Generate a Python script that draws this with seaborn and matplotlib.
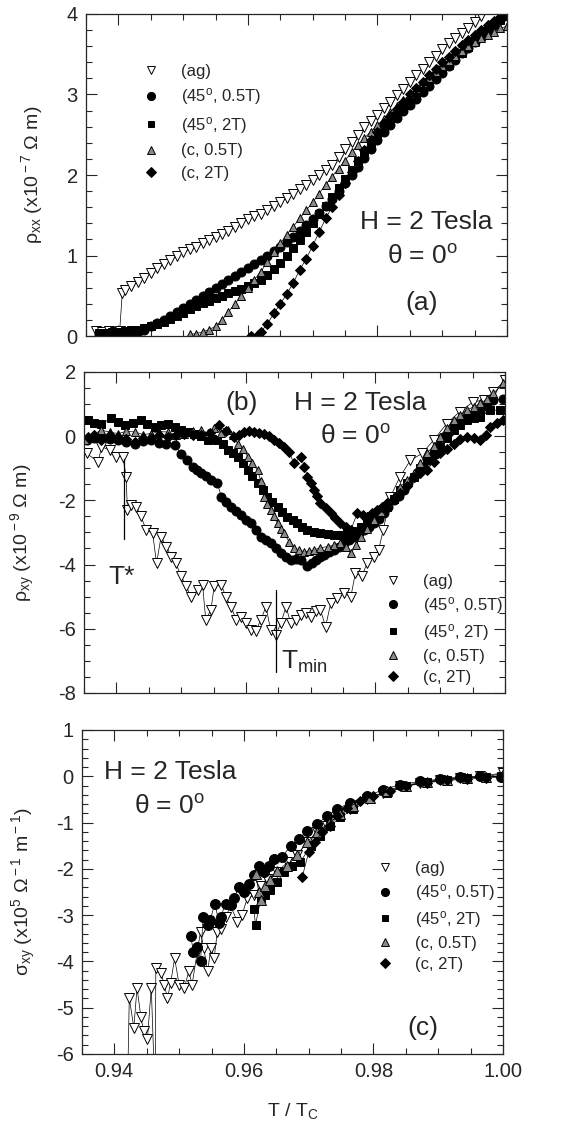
import matplotlib
matplotlib.use('Agg')
import matplotlib.pyplot as plt
from matplotlib.lines import Line2D
from matplotlib.ticker import MultipleLocator, FormatStrFormatter
import pandas as pd
import seaborn as sns

sns.set_style('ticks')
plt.rcParams['font.family'] = ['Liberation Sans', 'DejaVu Sans']
plt.rcParams['mathtext.fontset'] = 'custom'
plt.rcParams['mathtext.rm'] = 'Liberation Sans'
plt.rcParams['mathtext.it'] = 'Liberation Sans:italic'
plt.rcParams['axes.unicode_minus'] = False

labels = ['(ag)', r'(45$^{\rm o}$, 0.5T)', r'(45$^{\rm o}$, 2T)', '(c, 0.5T)', '(c, 2T)']

# ---------------- panel (a): rho_xx ----------------
a_ag_x = [0.9365, 0.9375, 0.9385, 0.9395, 0.9402, 0.9406,
          0.941, 0.942, 0.943, 0.944, 0.945, 0.946, 0.947, 0.948, 0.949, 0.950,
          0.951, 0.952, 0.953, 0.954, 0.955, 0.956, 0.957, 0.958, 0.959, 0.960,
          0.961, 0.962, 0.963, 0.964, 0.965, 0.966, 0.967, 0.968, 0.969, 0.970,
          0.971, 0.972, 0.973, 0.974, 0.975, 0.976, 0.977, 0.978, 0.979, 0.980,
          0.981, 0.982, 0.983, 0.984, 0.985, 0.986, 0.987, 0.988, 0.989, 0.990,
          0.991, 0.992, 0.993, 0.994, 0.995, 0.996]
a_ag_y = [0.06, 0.05, 0.06, 0.05, 0.06, 0.53,
          0.57, 0.62, 0.67, 0.72, 0.78, 0.84, 0.89, 0.94, 0.99, 1.04,
          1.08, 1.11, 1.15, 1.19, 1.23, 1.27, 1.31, 1.35, 1.40, 1.45,
          1.49, 1.52, 1.56, 1.62, 1.67, 1.72, 1.77, 1.83, 1.88, 1.94,
          2.00, 2.06, 2.12, 2.22, 2.32, 2.41, 2.50, 2.59, 2.67, 2.75,
          2.83, 2.91, 2.99, 3.07, 3.15, 3.24, 3.32, 3.40, 3.48, 3.56,
          3.64, 3.70, 3.76, 3.83, 3.90, 3.97]

a_x = [0.937, 0.938, 0.939, 0.940, 0.941, 0.942, 0.943, 0.944, 0.945, 0.946,
       0.947, 0.948, 0.949, 0.950, 0.951, 0.952, 0.953, 0.954, 0.955, 0.956,
       0.957, 0.958, 0.959, 0.960, 0.961, 0.962, 0.963, 0.964, 0.965, 0.966,
       0.967, 0.968, 0.969, 0.970, 0.971, 0.972, 0.973, 0.974, 0.975, 0.976,
       0.977, 0.978, 0.979, 0.980, 0.981, 0.982, 0.983, 0.984, 0.985, 0.986,
       0.987, 0.988, 0.989, 0.990, 0.991, 0.992, 0.993, 0.994, 0.995, 0.996,
       0.997, 0.998, 0.999, 1.000]
a_45_05_y = [0.03, 0.03, 0.03, 0.03, 0.03, 0.04, 0.05, 0.08, 0.12, 0.16,
             0.20, 0.25, 0.30, 0.35, 0.40, 0.45, 0.50, 0.55, 0.60, 0.65,
             0.70, 0.75, 0.80, 0.85, 0.90, 0.95, 1.00, 1.05, 1.11, 1.17,
             1.23, 1.30, 1.38, 1.45, 1.53, 1.61, 1.70, 1.80, 1.90, 2.00,
             2.10, 2.21, 2.32, 2.43, 2.53, 2.62, 2.71, 2.79, 2.87, 2.95,
             3.03, 3.11, 3.19, 3.27, 3.35, 3.43, 3.51, 3.58, 3.65, 3.72,
             3.79, 3.86, 3.93, 4.00]
a_45_2_y = [0.04, 0.04, 0.05, 0.05, 0.06, 0.07, 0.08, 0.10, 0.12, 0.15,
            0.18, 0.21, 0.25, 0.29, 0.33, 0.37, 0.41, 0.44, 0.47, 0.50,
            0.53, 0.56, 0.59, 0.62, 0.66, 0.70, 0.76, 0.83, 0.91, 1.00,
            1.09, 1.19, 1.29, 1.40, 1.51, 1.62, 1.73, 1.84, 1.95, 2.06,
            2.17, 2.28, 2.39, 2.49, 2.58, 2.67, 2.75, 2.83, 2.91, 2.99,
            3.07, 3.15, 3.23, 3.30, 3.37, 3.45, 3.52, 3.59, 3.66, 3.73,
            3.80, 3.87, 3.93, 3.98]

a_c05_x = [0.951, 0.952, 0.953, 0.954, 0.955, 0.956, 0.957, 0.958, 0.959, 0.960,
           0.961, 0.962, 0.963, 0.964, 0.965, 0.966, 0.967, 0.968, 0.969, 0.970,
           0.971, 0.972, 0.973, 0.974, 0.975, 0.976, 0.977, 0.978, 0.979, 0.980,
           0.981, 0.982, 0.983, 0.984, 0.985, 0.986, 0.987, 0.988, 0.989, 0.990,
           0.991, 0.992, 0.993, 0.994, 0.995, 0.996, 0.997, 0.998, 0.999, 1.000]
a_c05_y = [0.02, 0.03, 0.05, 0.08, 0.12, 0.20, 0.30, 0.40, 0.50, 0.60,
           0.70, 0.80, 0.92, 1.04, 1.15, 1.26, 1.36, 1.46, 1.56, 1.66,
           1.77, 1.88, 1.98, 2.08, 2.18, 2.28, 2.37, 2.46, 2.54, 2.62,
           2.70, 2.78, 2.86, 2.93, 3.00, 3.07, 3.14, 3.21, 3.28, 3.35,
           3.42, 3.48, 3.54, 3.60, 3.65, 3.70, 3.74, 3.78, 3.82, 3.85]

a_c2_x = [0.9605, 0.9615, 0.962, 0.963, 0.964, 0.965, 0.966, 0.967, 0.968, 0.969,
          0.970, 0.971, 0.972, 0.973, 0.974, 0.975, 0.976, 0.977, 0.978, 0.979,
          0.980, 0.981, 0.982, 0.983, 0.984, 0.985, 0.986, 0.987, 0.988, 0.989,
          0.990, 0.991, 0.992, 0.993, 0.994, 0.995, 0.996, 0.997, 0.998, 0.999, 1.000]
a_c2_y = [0.00, 0.01, 0.05, 0.15, 0.28, 0.40, 0.52, 0.66, 0.82, 0.96,
          1.12, 1.29, 1.46, 1.60, 1.75, 1.90, 2.04, 2.18, 2.31, 2.43,
          2.54, 2.64, 2.73, 2.82, 2.91, 3.00, 3.08, 3.16, 3.24, 3.32,
          3.40, 3.47, 3.54, 3.61, 3.68, 3.74, 3.80, 3.86, 3.91, 3.96, 4.00]

# ---------------- panel (b): rho_xy ----------------
b_ag_x = [0.9354, 0.9372, 0.9377, 0.9390, 0.9400, 0.9410, 0.9415, 0.9417, 0.9423, 0.9431,
          0.9438, 0.9446, 0.9456, 0.9462, 0.9469, 0.9477, 0.9485, 0.9492, 0.9500, 0.9508,
          0.9515, 0.9526, 0.9533, 0.9538, 0.9546, 0.9551, 0.9562, 0.9569, 0.9577, 0.9585,
          0.9592, 0.9600, 0.9608, 0.9615, 0.9623, 0.9631, 0.9638, 0.9646, 0.9654, 0.9662,
          0.9669, 0.9677, 0.9685, 0.9692, 0.9700, 0.9708, 0.9715, 0.9723, 0.9731, 0.9741,
          0.9751, 0.9762, 0.9769, 0.9779, 0.9787, 0.9797, 0.9805, 0.9812, 0.9823, 0.9838,
          0.9854, 0.9872, 0.9890, 0.9910, 0.9930, 0.9951, 0.9967, 0.9982, 1.0000]
b_ag_y = [-0.54, -0.80, -0.33, -0.44, -0.64, -0.64, -1.26, -2.30, -2.15, -2.20,
          -2.50, -2.92, -3.03, -3.96, -3.13, -3.44, -3.75, -3.96, -4.37, -4.68,
          -5.00, -4.79, -4.63, -5.72, -5.41, -4.68, -4.63, -5.00, -5.31, -5.72,
          -5.62, -5.82, -6.03, -6.08, -5.72, -5.31, -6.03, -6.19, -5.82, -5.31,
          -5.82, -5.72, -5.56, -5.51, -5.62, -5.46, -5.41, -5.93, -5.20, -5.05,
          -4.89, -5.00, -4.27, -4.37, -3.96, -3.75, -3.54, -2.92, -1.89, -1.26,
          -0.75, -0.54, -0.12, 0.39, 0.76, 1.07, 1.12, 1.38, 1.74]

b_45_05_x = [0.9354, 0.9365, 0.9377, 0.9390, 0.9403, 0.9415, 0.9428, 0.9441, 0.9454, 0.9466,
             0.9477, 0.9490, 0.9500, 0.9509, 0.9518, 0.9525, 0.9531, 0.9539, 0.9546, 0.9556,
             0.9562, 0.9569, 0.9577, 0.9585, 0.9592, 0.9600, 0.9608, 0.9615, 0.9623, 0.9631,
             0.9638, 0.9646, 0.9654, 0.9662, 0.9669, 0.9677, 0.9685, 0.9695, 0.9702, 0.9708,
             0.9715, 0.9721, 0.9728, 0.9736, 0.9744, 0.9751, 0.9759, 0.9767, 0.9774, 0.9782,
             0.9790, 0.9797, 0.9805, 0.9813, 0.9820, 0.9828, 0.9836, 0.9844, 0.9851, 0.9859,
             0.9867, 0.9874, 0.9882, 0.9890, 0.9898, 0.9905, 0.9913, 0.9921, 0.9931, 0.9941,
             0.9952, 0.9962, 0.9972, 0.9982, 0.9997]
b_45_05_y = [-0.12, -0.05, -0.02, -0.08, -0.12, -0.18, -0.23, -0.15, -0.12, -0.20,
             -0.23, -0.28, -0.55, -0.75, -0.95, -1.05, -1.16, -1.25, -1.37, -1.47,
             -1.89, -2.05, -2.20, -2.33, -2.46, -2.60, -2.72, -2.93, -3.13, -3.25,
             -3.34, -3.50, -3.65, -3.75, -3.85, -3.82, -3.85, -4.06, -3.95, -3.85,
             -3.78, -3.70, -3.62, -3.54, -3.45, -3.34, -3.25, -3.13, -3.02, -2.92,
             -2.82, -2.72, -2.58, -2.40, -2.20, -1.99, -1.85, -1.68, -1.45, -1.26,
             -1.10, -0.95, -0.75, -0.54, -0.30, -0.02, 0.12, 0.29, 0.45, 0.60,
             0.70, 0.76, 0.95, 1.12, 1.17]

b_45_2_x = [0.9356, 0.9366, 0.9377, 0.9392, 0.9403, 0.9413, 0.9425, 0.9438, 0.9448, 0.9459,
            0.9469, 0.9479, 0.9490, 0.9500, 0.9510, 0.9520, 0.9531, 0.9541, 0.9548, 0.9556,
            0.9564, 0.9572, 0.9580, 0.9587, 0.9595, 0.9603, 0.9610, 0.9618, 0.9626, 0.9633,
            0.9641, 0.9649, 0.9656, 0.9664, 0.9672, 0.9679, 0.9687, 0.9695, 0.9705, 0.9715,
            0.9726, 0.9736, 0.9746, 0.9756, 0.9767, 0.9777, 0.9787, 0.9797, 0.9808, 0.9818,
            0.9828, 0.9838, 0.9849, 0.9859, 0.9869, 0.9879, 0.9890, 0.9900, 0.9910, 0.9921,
            0.9931, 0.9941, 0.9952, 0.9962, 0.9977, 0.9992]
b_45_2_y = [0.50, 0.42, 0.39, 0.55, 0.45, 0.34, 0.40, 0.50, 0.38, 0.29,
            0.35, 0.39, 0.30, 0.19, 0.14, 0.08, 0.00, -0.12, -0.08, -0.12,
            -0.25, -0.44, -0.52, -0.64, -0.85, -1.06, -1.25, -1.47, -1.68, -1.89,
            -2.05, -2.20, -2.35, -2.51, -2.62, -2.72, -2.82, -2.92, -3.00, -3.03,
            -3.06, -3.08, -3.07, -3.03, -2.95, -2.82, -2.68, -2.51, -2.36, -2.20,
            -1.95, -1.68, -1.47, -1.26, -1.00, -0.75, -0.55, -0.33, -0.05, 0.19,
            0.35, 0.50, 0.55, 0.60, 0.81, 0.81]

b_c05_x = [0.9351, 0.9364, 0.9377, 0.9390, 0.9403, 0.9415, 0.9428, 0.9441, 0.9454, 0.9466,
           0.9479, 0.9492, 0.9505, 0.9518, 0.9531, 0.9541, 0.9551, 0.9562, 0.9572, 0.9580,
           0.9587, 0.9595, 0.9603, 0.9610, 0.9618, 0.9623, 0.9628, 0.9633, 0.9638, 0.9644,
           0.9649, 0.9654, 0.9659, 0.9667, 0.9674, 0.9682, 0.9690, 0.9697, 0.9705, 0.9715,
           0.9726, 0.9736, 0.9746, 0.9754, 0.9762, 0.9770, 0.9777, 0.9787, 0.9797, 0.9808,
           0.9818, 0.9828, 0.9838, 0.9849, 0.9859, 0.9869, 0.9879, 0.9890, 0.9900, 0.9910,
           0.9921, 0.9931, 0.9941, 0.9952, 0.9962, 0.9972, 0.9982, 0.9997]
b_c05_y = [-0.12, 0.05, 0.19, 0.12, 0.08, 0.15, 0.13, 0.05, 0.08, 0.14,
           0.13, 0.05, 0.08, 0.15, 0.19, 0.10, 0.24, 0.10, 0.19, 0.05,
           -0.23, -0.40, -0.64, -0.85, -1.06, -1.40, -1.89, -2.10, -2.30, -2.50,
           -2.72, -2.90, -3.03, -3.30, -3.49, -3.55, -3.60, -3.58, -3.54, -3.48,
           -3.44, -3.40, -3.34, -3.45, -3.65, -3.40, -3.13, -2.88, -2.61, -2.35,
           -2.09, -1.85, -1.58, -1.38, -1.16, -0.85, -0.54, -0.30, -0.02, 0.25,
           0.50, 0.65, 0.81, 0.92, 1.02, 1.15, 1.33, 1.64]

b_c2_x = [0.9356, 0.9366, 0.9377, 0.9390, 0.9403, 0.9415, 0.9428, 0.9441, 0.9454, 0.9466,
          0.9479, 0.9492, 0.9505, 0.9518, 0.9531, 0.9545, 0.9559, 0.9570, 0.9582, 0.9590,
          0.9597, 0.9605, 0.9613, 0.9620, 0.9628, 0.9636, 0.9644, 0.9651, 0.9659, 0.9667,
          0.9674, 0.9685, 0.9690, 0.9695, 0.9700, 0.9705, 0.9710, 0.9715, 0.9723, 0.9731,
          0.9738, 0.9746, 0.9754, 0.9762, 0.9772, 0.9780, 0.9787, 0.9795, 0.9803, 0.9810,
          0.9818, 0.9828, 0.9838, 0.9849, 0.9859, 0.9869, 0.9879, 0.9890, 0.9900, 0.9910,
          0.9921, 0.9931, 0.9941, 0.9952, 0.9962, 0.9970, 0.9977, 0.9987, 0.9997]
b_c2_y = [-0.02, 0.05, -0.12, 0.03, -0.02, -0.10, -0.18, -0.05, -0.07, 0.02,
          -0.02, 0.05, 0.08, 0.02, 0.03, 0.10, 0.34, 0.15, -0.02, 0.05,
          0.13, 0.16, 0.13, 0.10, 0.08, 0.00, -0.12, -0.20, -0.33, -0.50,
          -0.85, -0.64, -0.95, -1.26, -1.45, -1.68, -1.85, -2.09, -2.25, -2.40,
          -2.55, -2.72, -2.82, -2.92, -2.40, -2.45, -2.51, -2.40, -2.30, -2.20,
          -2.09, -1.95, -1.78, -1.55, -1.26, -1.15, -1.06, -0.80, -0.54, -0.40,
          -0.23, -0.10, -0.02, -0.05, -0.12, 0.05, 0.29, 0.40, 0.50]

# ---------------- panel (c): sigma_xy ----------------
c_ag_x = [0.9420, 0.9423, 0.9430, 0.9435, 0.9441, 0.9445, 0.9451, 0.9457, 0.9463, 0.9464,
          0.9472, 0.9477, 0.9482, 0.9487, 0.9493, 0.9500, 0.9508, 0.9515, 0.9520, 0.9528,
          0.9533, 0.9538, 0.9544, 0.9549, 0.9554, 0.9559, 0.9564, 0.9572, 0.9579, 0.9590,
          0.9597, 0.9605, 0.9615, 0.9626, 0.9636, 0.9651, 0.9667, 0.9682, 0.9697, 0.9713,
          0.9728, 0.9744, 0.9764, 0.9790, 0.9815, 0.9841, 0.9872, 0.9903, 0.9933, 0.9964,
          1.0000]
c_ag_y = [-7.00, -4.79, -5.43, -4.57, -5.21, -5.50, -5.68, -4.57, -7.00, -4.14,
          -4.25, -4.50, -4.79, -4.46, -3.93, -4.50, -4.57, -4.21, -4.50, -3.79,
          -3.36, -3.71, -4.21, -3.71, -3.93, -3.36, -3.29, -3.05, -2.79, -3.14,
          -3.00, -2.64, -2.57, -2.36, -2.21, -2.07, -1.86, -1.71, -1.43, -1.21,
          -1.07, -0.86, -0.71, -0.50, -0.36, -0.21, -0.14, -0.07, -0.04, 0.00,
          0.07]

c_45_05_x = [0.9518, 0.9522, 0.9528, 0.9533, 0.9537, 0.9544, 0.9548, 0.9555, 0.9562, 0.9564,
             0.9572, 0.9580, 0.9585, 0.9592, 0.9600, 0.9608, 0.9615, 0.9623, 0.9631, 0.9638,
             0.9646, 0.9659, 0.9672, 0.9685, 0.9697, 0.9713, 0.9728, 0.9744, 0.9764, 0.9790,
             0.9815, 0.9841, 0.9872, 0.9903, 0.9933, 0.9964, 0.9997]
c_45_05_y = [-3.46, -3.79, -3.68, -4.00, -3.04, -3.21, -3.11, -2.75, -3.18, -3.04,
             -2.75, -2.79, -2.64, -2.39, -2.50, -2.32, -2.14, -1.93, -2.07, -1.93,
             -1.79, -1.75, -1.50, -1.36, -1.18, -1.04, -0.86, -0.71, -0.57, -0.43,
             -0.29, -0.18, -0.11, -0.06, -0.01, 0.00, -0.01]

c_45_2_x = [0.9615, 0.9618, 0.9626, 0.9633, 0.9641, 0.9651, 0.9662, 0.9674, 0.9687, 0.9703,
            0.9718, 0.9733, 0.9749, 0.9769, 0.9795, 0.9821, 0.9851, 0.9882, 0.9913, 0.9944,
            0.9974, 0.9997]
c_45_2_y = [-2.86, -3.21, -2.64, -2.57, -2.46, -2.29, -2.07, -1.93, -1.86, -1.50,
            -1.29, -1.07, -0.89, -0.71, -0.50, -0.36, -0.21, -0.13, -0.07, -0.04,
            -0.01, 0.00]

c_c05_x = [0.9618, 0.9623, 0.9626, 0.9633, 0.9641, 0.9651, 0.9667, 0.9682, 0.9697, 0.9713,
           0.9731, 0.9749, 0.9769, 0.9795, 0.9821, 0.9851, 0.9882, 0.9913, 0.9944, 0.9974,
           1.0000]
c_c05_y = [-2.11, -2.50, -2.68, -2.36, -2.25, -2.04, -1.93, -1.71, -1.43, -1.21,
           -1.00, -0.82, -0.64, -0.46, -0.32, -0.20, -0.13, -0.07, -0.04, -0.01,
           0.06]

c_c2_x = [0.9690, 0.9700, 0.9710, 0.9720, 0.9733, 0.9744, 0.9759, 0.9779, 0.9800, 0.9826,
          0.9851, 0.9882, 0.9913, 0.9944, 0.9974, 1.0000]
c_c2_y = [-2.18, -1.64, -1.43, -1.21, -1.07, -0.86, -0.68, -0.54, -0.43, -0.32,
          -0.21, -0.14, -0.09, -0.06, -0.04, -0.01]

styles = [
    dict(marker='v', mfc='white', mec='black', color='black'),
    dict(marker='o', mfc='black', mec='black', color='black'),
    dict(marker='s', mfc='black', mec='black', color='black'),
    dict(marker='^', mfc='#8a8a8a', mec='black', color='black'),
    dict(marker='D', mfc='black', mec='black', color='black'),
]
msizes = [6.5, 6.5, 5.5, 6, 5.5]


def draw_series(ax, series, ms_scale=1.0):
    for (xs, ys), st, ms in zip(series, styles, msizes):
        df = pd.DataFrame({'x': xs, 'y': ys})
        s = ms * ms_scale
        if st['marker'] == 'D':
            s = s * 0.85
        sns.lineplot(data=df, x='x', y='y', ax=ax, sort=False, estimator=None,
                     color=st['color'], lw=0.5, marker=st['marker'],
                     markerfacecolor=st['mfc'], markeredgecolor=st['mec'],
                     markeredgewidth=0.7, markersize=s, legend=False)


def add_legend(ax, x0, y0, spacing=0.35):
    handles = []
    for st, ms in zip(styles, msizes):
        handles.append(Line2D([], [], linestyle='none', marker=st['marker'],
                              markerfacecolor=st['mfc'], markeredgecolor=st['mec'],
                              markeredgewidth=0.7, markersize=ms * 0.9))
    ax.legend(handles, labels, loc='upper left', bbox_to_anchor=(x0, y0),
              frameon=False, fontsize=12, handlelength=1.0, handletextpad=1.3,
              labelspacing=spacing, borderpad=0, borderaxespad=0)


def style_axis(ax, ymin, ymax, ymaj, ymin_step, fmt='%d'):
    ax.set_xlim(0.935, 1.0)
    ax.set_ylim(ymin, ymax)
    ax.xaxis.set_major_locator(MultipleLocator(0.02))
    ax.xaxis.set_minor_locator(MultipleLocator(0.005))
    ax.yaxis.set_major_locator(MultipleLocator(ymaj))
    ax.yaxis.set_minor_locator(MultipleLocator(ymin_step))
    ax.yaxis.set_major_formatter(FormatStrFormatter(fmt))
    ax.tick_params(which='both', direction='in', top=True, right=True, width=0.8)
    ax.tick_params(which='major', length=8, labelsize=14.5, pad=6)
    ax.tick_params(which='minor', length=4)
    for sp in ax.spines.values():
        sp.set_linewidth(0.9)
    ax.set_xlabel('')


fig = plt.figure(figsize=(5.77, 11.36), dpi=100)
ax_a = fig.add_axes([0.149, 0.7042, 0.7296, 0.2835])
ax_b = fig.add_axes([0.1456, 0.3900, 0.7296, 0.2826])
ax_c = fig.add_axes([0.1421, 0.0722, 0.7296, 0.2852])

# panel (a)
draw_series(ax_a, [(a_ag_x, a_ag_y), (a_x, a_45_05_y), (a_x, a_45_2_y),
                   (a_c05_x, a_c05_y), (a_c2_x, a_c2_y)])
style_axis(ax_a, 0, 4, 1, 0.2)
ax_a.tick_params(labelbottom=False)
ax_a.set_ylabel(r'ρ$_{\rm xx}$ (x10$^{\rm -7}$ Ω m)', fontsize=14)
ax_a.yaxis.set_label_coords(-0.097, 0.5)
add_legend(ax_a, 0.135, 0.845, spacing=0.45)
ax_a.text(0.808, 0.354, 'H = 2 Tesla', transform=ax_a.transAxes, fontsize=19,
          ha='center', va='center')
ax_a.text(0.80, 0.245, r'θ = 0$^{\rm o}$', transform=ax_a.transAxes, fontsize=19,
          ha='center', va='center')
ax_a.text(0.798, 0.102, '(a)', transform=ax_a.transAxes, fontsize=19,
          ha='center', va='center')

# panel (b)
draw_series(ax_b, [(b_ag_x, b_ag_y), (b_45_05_x, b_45_05_y), (b_45_2_x, b_45_2_y),
                   (b_c05_x, b_c05_y), (b_c2_x, b_c2_y)])
style_axis(ax_b, -8, 2, 2, 0.5)
ax_b.tick_params(labelbottom=False)
ax_b.set_ylabel(r'ρ$_{\rm xy}$ (x10$^{\rm -9}$ Ω m)', fontsize=14)
ax_b.yaxis.set_label_coords(-0.112, 0.5)
add_legend(ax_b, 0.713, 0.37)
ax_b.plot([0.9412, 0.9412], [-0.7, -3.2], color='black', lw=0.9)
ax_b.plot([0.9646, 0.9646], [-4.8, -7.35], color='black', lw=0.9)
ax_b.text(0.375, 0.903, '(b)', transform=ax_b.transAxes, fontsize=19,
          ha='center', va='center')
ax_b.text(0.656, 0.903, 'H = 2 Tesla', transform=ax_b.transAxes, fontsize=19,
          ha='center', va='center')
ax_b.text(0.644, 0.797, r'θ = 0$^{\rm o}$', transform=ax_b.transAxes, fontsize=19,
          ha='center', va='center')
ax_b.text(0.09, 0.361, 'T*', transform=ax_b.transAxes, fontsize=19,
          ha='center', va='center')
ax_b.text(0.468, 0.097, r'T$_{\rm min}$', transform=ax_b.transAxes, fontsize=19,
          ha='left', va='center')

# panel (c)
draw_series(ax_c, [(c_ag_x, c_ag_y), (c_45_05_x, c_45_05_y), (c_45_2_x, c_45_2_y),
                   (c_c05_x, c_c05_y), (c_c2_x, c_c2_y)], ms_scale=1.1)
style_axis(ax_c, -6, 1, 1, 0.2)
ax_c.xaxis.set_major_formatter(FormatStrFormatter('%.2f'))
ax_c.set_ylabel(r'σ$_{\rm xy}$ (x10$^{\rm 5}$ Ω$^{\rm -1}$ m$^{\rm -1}$)', fontsize=14)
ax_c.yaxis.set_label_coords(-0.105, 0.5)
ax_c.set_xlabel(r'T / T$_{\rm C}$', fontsize=14, labelpad=14)
add_legend(ax_c, 0.70, 0.595)
ax_c.text(0.209, 0.870, 'H = 2 Tesla', transform=ax_c.transAxes, fontsize=19,
          ha='center', va='center')
ax_c.text(0.209, 0.762, r'θ = 0$^{\rm o}$', transform=ax_c.transAxes, fontsize=19,
          ha='center', va='center')
ax_c.text(0.81, 0.08, '(c)', transform=ax_c.transAxes, fontsize=19,
          ha='center', va='center')

fig.savefig('out.png', dpi=100)
